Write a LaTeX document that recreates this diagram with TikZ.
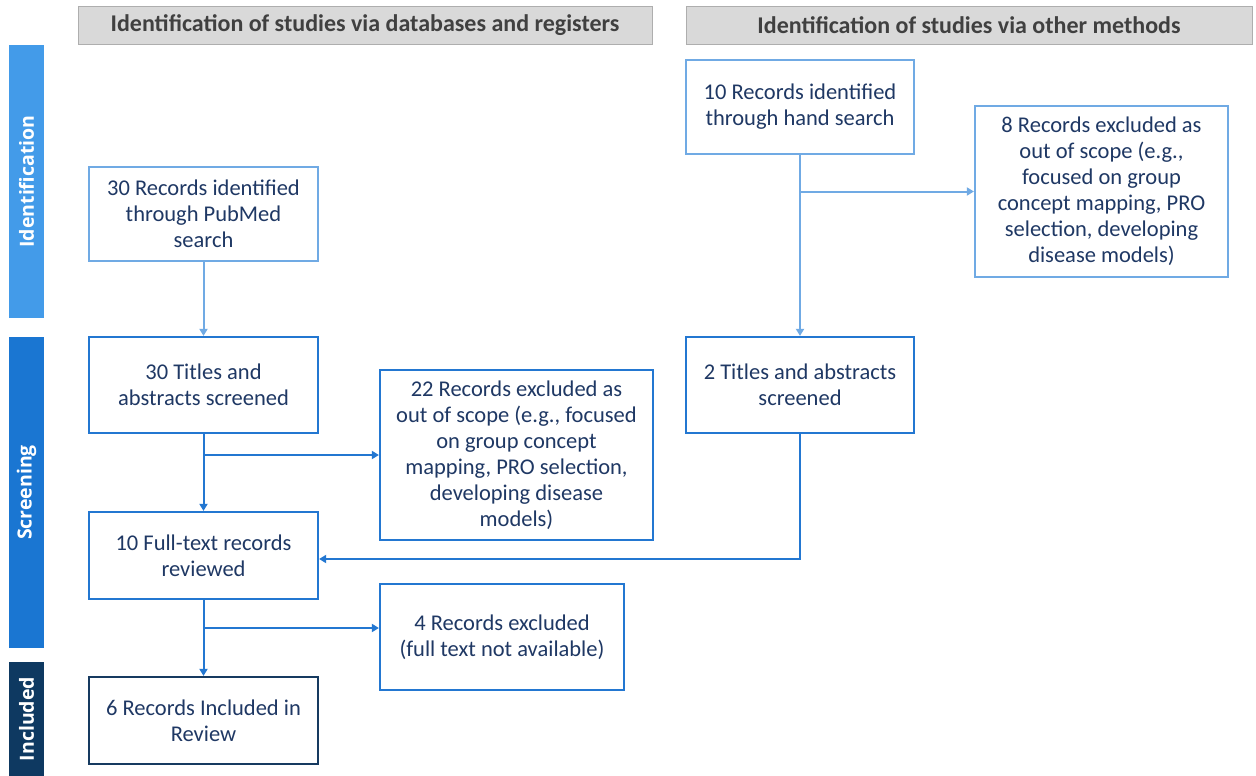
\documentclass[tikz,border=0pt]{standalone}
\usepackage{fontspec}
\setmainfont{Carlito}
\newfontfamily\barfont{Open Sans}
\usetikzlibrary{arrows.meta}
\definecolor{lightline}{RGB}{112,170,228}
\definecolor{midline}{RGB}{35,119,209}
\definecolor{navyline}{RGB}{22,58,96}
\definecolor{boxtext}{RGB}{31,56,100}
\definecolor{headfill}{RGB}{217,217,217}
\definecolor{headtext}{RGB}{64,64,64}
\definecolor{idbar}{RGB}{67,155,233}
\definecolor{scbar}{RGB}{26,118,210}
\definecolor{inbar}{RGB}{14,57,97}
\begin{document}
\begin{tikzpicture}
[x=1pt,y=-1pt%
,every node/.style={font=\fontsize{22.5}{26}\selectfont,%
	text=boxtext,%
	align=center,%
	inner sep=0pt}%
,header/.style={fill=headfill,%
	draw=headfill!80!black,%
	line width=0.8pt,%
	text=headtext,%
	font=\fontsize{24}{26}\selectfont\bfseries,%
	minimum height=38pt}%
,phase/.style={rotate=90,%
	text=white,%
	font=\barfont\fontsize{19.5}{22}\selectfont\bfseries,%
	minimum width=#1,%
	minimum height=35pt}%
,box/.style={draw=midline,%
	line width=2.2pt,%
	fill=white}%
,firstbox/.style={box,draw=lightline}%
,lastbox/.style={box,draw=navyline}%
,link/.style={draw=midline,%
	line width=2pt,%
	-{Triangle[length=7pt,width=8pt]}}%
,firstlink/.style={link,draw=lightline}]
\useasboundingbox (0,0) rectangle (1256,776);
% column headers
\node[header,minimum width=574pt] (headdb) at (365,25) {Identification of studies via databases and registers};
\node[header,minimum width=566pt] (headother) at (969,25) {Identification of studies via other methods};
% phase bars
\node[phase=273pt,fill=idbar] (barid) at (26.5,181.5) {Identification};
\node[phase=311pt,fill=scbar] (barsc) at (26.5,492.5) {Screening};
\node[phase=114pt,fill=inbar] (barin) at (26.5,719) {Included};
% databases column
\node[firstbox,minimum width=229pt,minimum height=94pt] (pubmed) at (203.5,214) {30 Records identified\\through PubMed\\search};
\node[box,minimum width=229pt,minimum height=96pt] (titles30) at (203.5,385) {30 Titles and\\abstracts screened};
\node[box,minimum width=273pt,minimum height=170pt] (excl22) at (516.5,455) {22 Records excluded as\\out of scope (e.g., focused\\on group concept\\mapping, PRO selection,\\developing disease\\models)};
\node[box,minimum width=229pt,minimum height=87pt] (full) at (203.5,555.5) {10 Full-text records\\reviewed};
\node[box,minimum width=244pt,minimum height=106pt] (excl4) at (502,637) {4 Records excluded\\(full text not available)};
\node[lastbox,minimum width=229pt,minimum height=87pt] (incl) at (203.5,720.5) {6 Records Included in\\Review};
% other methods column
\node[firstbox,minimum width=228pt,minimum height=94pt] (hand) at (800,107) {10 Records identified\\through hand search};
\node[firstbox,minimum width=253pt,minimum height=171pt] (excl8) at (1101.5,191.5) {8 Records excluded as\\out of scope (e.g.,\\focused on group\\concept mapping, PRO\\selection, developing\\disease models)};
\node[box,minimum width=228pt,minimum height=96pt] (titles2) at (800,385) {2 Titles and abstracts\\screened};
% connectors
\draw[firstlink] (pubmed) -- (titles30);
\draw[firstlink] (hand) -- (titles2);
\draw[firstlink] (hand.south |- excl8.west) -- (excl8.west);
\draw[link] (titles30) -- (full);
\draw[link] (titles30.south |- excl22.west) -- (excl22.west);
\draw[link] (full) -- (incl);
\draw[link] (full.south |- excl4.west) ++(0,-9) -- ([yshift=9pt]excl4.west);
\draw[link] (titles2.south) |- ([yshift=-3.5pt]full.east);
\end{tikzpicture}
\end{document}
